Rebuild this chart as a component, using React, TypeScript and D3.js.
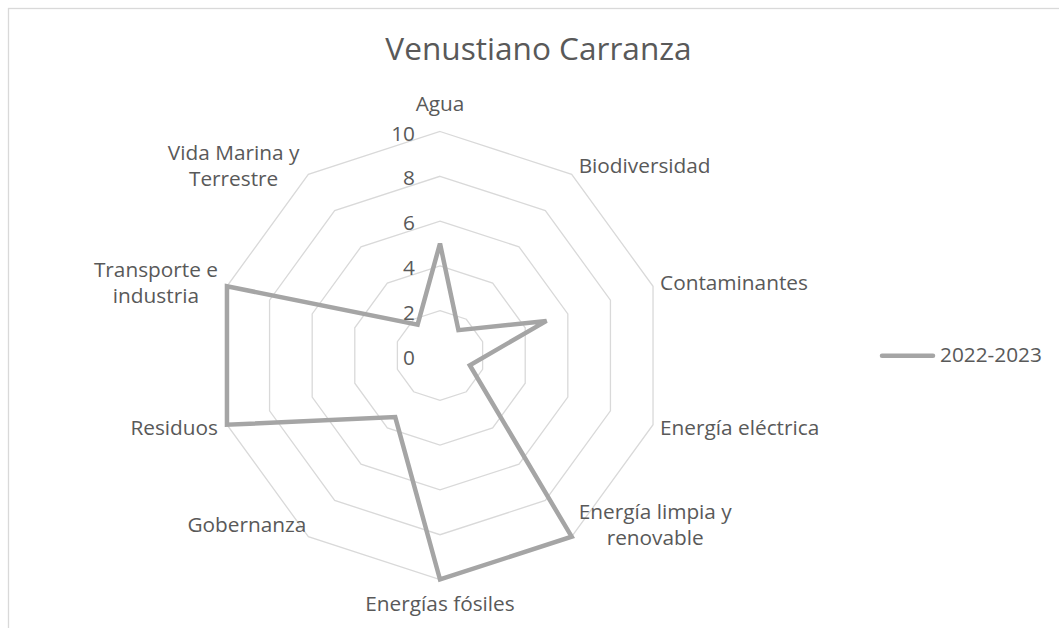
import React, { useEffect, useRef } from "react";
import * as d3 from "d3";

const chartTitle = "Venustiano Carranza";
const categories = [
  ["Agua"],
  ["Biodiversidad"],
  ["Contaminantes"],
  ["Energía eléctrica"],
  ["Energía limpia y", "renovable"],
  ["Energías fósiles"],
  ["Gobernanza"],
  ["Residuos"],
  ["Transporte e", "industria"],
  ["Vida Marina y", "Terrestre"],
];
const seriesName = "2022-2023";
const values = [5, 1.4, 5, 1.4, 10, 10, 3.4, 10, 10, 1.7];
const ticks = [0, 2, 4, 6, 8, 10];

const W = 1059;
const H = 628;
const FONT = "'Open Sans', 'DejaVu Sans', sans-serif";
const TEXT = "#595959";
const GRID = "#d9d9d9";
const LINE = "#a5a5a5";

export default function App() {
  const ref = useRef<SVGSVGElement>(null);

  useEffect(() => {
    const svg = d3.select(ref.current);
    svg.selectAll("*").remove();

    const cx = 440;
    const cy = 355.5;
    const r = d3.scaleLinear().domain([0, 10]).range([0, 224]);
    const n = categories.length;
    const angle = d3.scaleLinear().domain([0, n]).range([0, 2 * Math.PI]);

    // chart border
    svg.append("rect")
      .attr("x", 8.5).attr("y", 8.5)
      .attr("width", W + 40).attr("height", H + 40)
      .attr("fill", "#fff").attr("stroke", GRID).attr("stroke-width", 1.3);

    // title
    svg.append("text")
      .attr("x", 538.5).attr("y", 60)
      .attr("text-anchor", "middle")
      .attr("font-family", FONT).attr("font-size", 31.6)
      .attr("fill", TEXT)
      .text(chartTitle);

    const g = svg.append("g").attr("transform", `translate(${cx},${cy})`);

    // rings
    const ring = d3.lineRadial<number>()
      .angle((_, i) => angle(i))
      .radius((d) => r(d))
      .curve(d3.curveLinearClosed);
    ticks.filter((t) => t > 0).forEach((t) => {
      g.append("path")
        .attr("d", ring(d3.range(n).map(() => t)))
        .attr("fill", "none").attr("stroke", GRID).attr("stroke-width", 1.3);
    });

    // tick labels
    ticks.forEach((t) => {
      g.append("text")
        .attr("x", -25).attr("y", -r(t) + 9)
        .attr("text-anchor", "end")
        .attr("font-family", FONT).attr("font-size", 20.8)
        .attr("fill", TEXT)
        .text(t);
    });

    // series
    g.append("path")
      .attr("d", ring(values))
      .attr("fill", "none").attr("stroke", LINE)
      .attr("stroke-width", 4.5).attr("stroke-linejoin", "miter");

    // category labels
    categories.forEach((lines, i) => {
      const a = angle(i);
      const s = Math.sin(a);
      const c = Math.cos(a);
      const vx = r(10) * s;
      let yc = -c * (r(10) + 10);
      if (Math.abs(s) < 0.1) yc -= c * (c > 0 ? 18 : 14);
      else if (c < -0.5) yc -= 20;
      const grp = g.append("g");
      const texts = lines.map((line, j) =>
        grp.append("text")
          .attr("y", yc + (j - (lines.length - 1) / 2) * 26 + 7)
          .attr("text-anchor", "middle")
          .attr("font-family", FONT).attr("font-size", 20.8)
          .attr("fill", TEXT)
          .text(line)
      );
      const bw = d3.max(texts, (t) => (t.node() as SVGTextElement).getComputedTextLength()) || 0;
      let mid = vx;
      if (s > 0.1) mid = vx + 7 + bw / 2;
      else if (s < -0.1) mid = vx - (c < -0.5 ? 2 : 9) - bw / 2;
      texts.forEach((t) => t.attr("x", mid));
    });

    // legend
    const ly = 355.7;
    svg.append("line")
      .attr("x1", 882).attr("x2", 933).attr("y1", ly).attr("y2", ly)
      .attr("stroke", LINE).attr("stroke-width", 4.5).attr("stroke-linecap", "round");
    svg.append("text")
      .attr("x", 940).attr("y", ly + 6)
      .attr("font-family", FONT).attr("font-size", 20.8)
      .attr("fill", TEXT)
      .text(seriesName);
  }, []);

  return (
    <svg
      ref={ref}
      width={W}
      height={H}
      style={{ position: "absolute", left: 0, top: 0, background: "#fff" }}
    />
  );
}
